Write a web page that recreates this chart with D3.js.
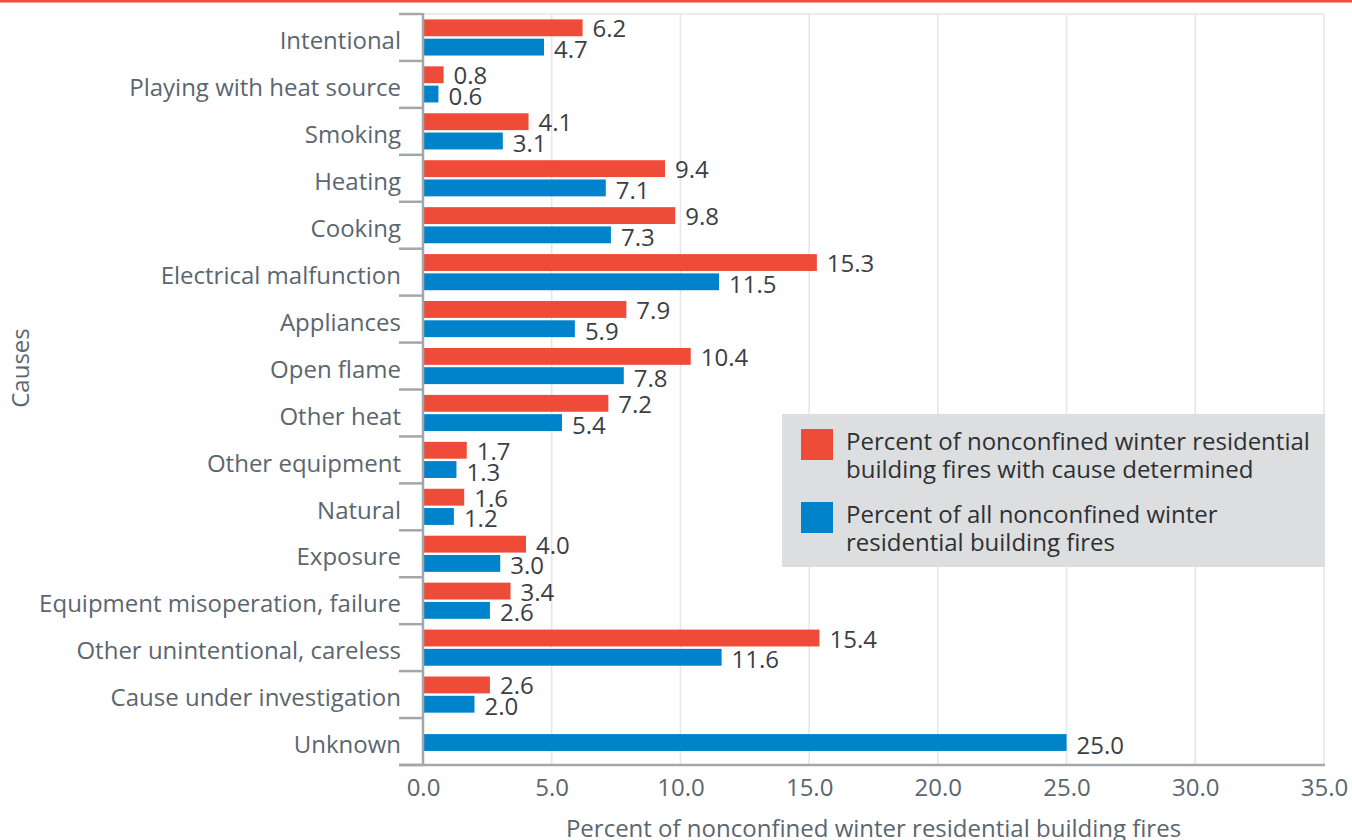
<!DOCTYPE html>
<html>
<head>
<meta charset="utf-8">
<script src="https://cdn.jsdelivr.net/npm/d3@7"></script>
<style>
  body { margin: 0; background: #fff; }
  text { font-family: "Open Sans", sans-serif; }
</style>
</head>
<body>
<div id="chart"></div>
<script>
var causes = ['Intentional', 'Playing with heat source', 'Smoking', 'Heating', 'Cooking',
    'Electrical malfunction', 'Appliances', 'Open flame', 'Other heat', 'Other equipment',
    'Natural', 'Exposure', 'Equipment misoperation, failure', 'Other unintentional, careless',
    'Cause under investigation', 'Unknown'],
    causeDetermined = [6.2, 0.8, 4.1, 9.4, 9.8, 15.3, 7.9, 10.4, 7.2, 1.7, 1.6, 4.0, 3.4, 15.4, 2.6, null],
    allFires = [4.7, 0.6, 3.1, 7.1, 7.3, 11.5, 5.9, 7.8, 5.4, 1.3, 1.2, 3.0, 2.6, 11.6, 2.0, 25.0],
    xTicks = [0, 5, 10, 15, 20, 25, 30, 35],
    seriesNames = ['Percent of nonconfined winter residential building fires with cause determined',
        'Percent of all nonconfined winter residential building fires'],
    legendLines = [['Percent of nonconfined winter residential', 'building fires with cause determined'],
        ['Percent of all nonconfined winter', 'residential building fires']];

var width = 1352, height = 840,
    plotLeft = 423, plotRight = 1324, plotTop = 14, plotBottom = 765,
    red = '#ee4b39', blue = '#0083cb',
    fontSize = 24;

var svg = d3.select('#chart').append('svg')
    .attr('width', width)
    .attr('height', height);

// top stripe
svg.append('rect').attr('x', 0).attr('y', 0).attr('width', width).attr('height', 2.5).attr('fill', red);

var x = d3.scaleLinear().domain([0, 35]).range([plotLeft, plotRight]);
var y = d3.scaleBand().domain(causes).range([plotTop, plotBottom]);
var sub = d3.scaleBand().domain(['det', 'all']).range([0, y.bandwidth()])
    .paddingInner(0.125).paddingOuter(0.28);

// Grid
svg.append('line')
    .attr('x1', plotLeft).attr('x2', plotRight).attr('y1', plotTop).attr('y2', plotTop)
    .attr('stroke', '#e4e6e8').attr('stroke-width', 1.5);
svg.append('g').selectAll('line')
    .data(xTicks.slice(1))
    .enter().append('line')
    .attr('x1', d => x(d)).attr('x2', d => x(d))
    .attr('y1', plotTop).attr('y2', plotBottom)
    .attr('stroke', '#e4e6e8').attr('stroke-width', 1.5);

// Bars
var rows = causes.map((c, i) => ({ cause: c, det: causeDetermined[i], all: allFires[i] }));
var groups = svg.append('g').selectAll('g')
    .data(rows)
    .enter().append('g')
    .attr('transform', d => 'translate(0,' + y(d.cause) + ')');

// a lone bar (other series missing) sits in the middle of its category
function barY(d, key) {
    var other = key === 'det' ? 'all' : 'det';
    if (d[other] == null) return (y.bandwidth() - sub.bandwidth()) / 2 + 1;
    return sub(key);
}

[['det', red, 0], ['all', blue, 1.5]].forEach(s => {
    var key = s[0];
    groups.filter(d => d[key] != null).append('rect')
        .attr('x', x(0) + 1)
        .attr('y', d => barY(d, key))
        .attr('width', d => x(d[key]) - x(0) - 1)
        .attr('height', sub.bandwidth())
        .attr('fill', s[1]);
    groups.filter(d => d[key] != null).append('text')
        .attr('x', d => x(d[key]) + 10)
        .attr('y', d => barY(d, key) + sub.bandwidth() / 2 + s[2])
        .attr('dominant-baseline', 'central')
        .attr('font-size', fontSize)
        .attr('fill', '#3b3f44')
        .text(d => d3.format('.1f')(d[key]));
});

// Y axis
var yAxis = svg.append('g')
    .attr('transform', 'translate(' + plotLeft + ',0)')
    .call(d3.axisLeft(y).tickSize(0).tickPadding(22));
yAxis.select('.domain').remove();
yAxis.selectAll('text')
    .attr('font-size', fontSize)
    .attr('font-family', '"Open Sans", sans-serif')
    .attr('fill', '#5b6670')
    .attr('y', 4);

var bounds = causes.map(c => y(c)).concat([plotBottom]);
svg.append('g').selectAll('line')
    .data(bounds)
    .enter().append('line')
    .attr('x1', plotLeft - 24).attr('x2', plotLeft)
    .attr('y1', d => d).attr('y2', d => d)
    .attr('stroke', '#a3a7ab').attr('stroke-width', 2.5);
svg.append('line')
    .attr('x1', plotLeft).attr('x2', plotLeft).attr('y1', plotTop - 1).attr('y2', plotBottom + 1)
    .attr('stroke', '#a3a7ab').attr('stroke-width', 2.5);

// X axis
var xAxis = svg.append('g')
    .attr('transform', 'translate(0,' + plotBottom + ')')
    .call(d3.axisBottom(x).tickValues(xTicks).tickFormat(d3.format('.1f')).tickSize(0).tickPadding(14));
xAxis.select('.domain').remove();
xAxis.selectAll('text')
    .attr('font-size', fontSize)
    .attr('font-family', '"Open Sans", sans-serif')
    .attr('fill', '#5b6670');
svg.append('line')
    .attr('x1', plotLeft - 24).attr('x2', plotRight + 1).attr('y1', plotBottom).attr('y2', plotBottom)
    .attr('stroke', '#a3a7ab').attr('stroke-width', 2.5);

// Axis titles
svg.append('text')
    .attr('x', (plotLeft + plotRight) / 2)
    .attr('y', 827)
    .attr('text-anchor', 'middle')
    .attr('dominant-baseline', 'central')
    .attr('font-size', fontSize)
    .attr('fill', '#5b6670')
    .text('Percent of nonconfined winter residential building fires');

svg.append('text')
    .attr('transform', 'translate(19,368) rotate(-90)')
    .attr('text-anchor', 'middle')
    .attr('dominant-baseline', 'central')
    .attr('font-size', fontSize)
    .attr('fill', '#5b6670')
    .text('Causes');

// Legend
var legend = svg.append('g').attr('transform', 'translate(782,414)');
legend.append('rect')
    .attr('width', 543).attr('height', 153)
    .attr('fill', '#dcdee0');
[red, blue].forEach((c, i) => {
    var g = legend.append('g').attr('transform', 'translate(0,' + (i * 73) + ')');
    g.append('rect')
        .attr('x', 19).attr('y', 15)
        .attr('width', 32).attr('height', 31)
        .attr('fill', c);
    g.append('title').text(seriesNames[i]);
    legendLines[i].forEach((line, j) => {
        g.append('text')
            .attr('x', 64)
            .attr('y', 26 + j * 28)
            .attr('dominant-baseline', 'central')
            .attr('font-size', fontSize)
            .attr('fill', '#2e3033')
            .text(line);
    });
});
</script>
</body>
</html>
